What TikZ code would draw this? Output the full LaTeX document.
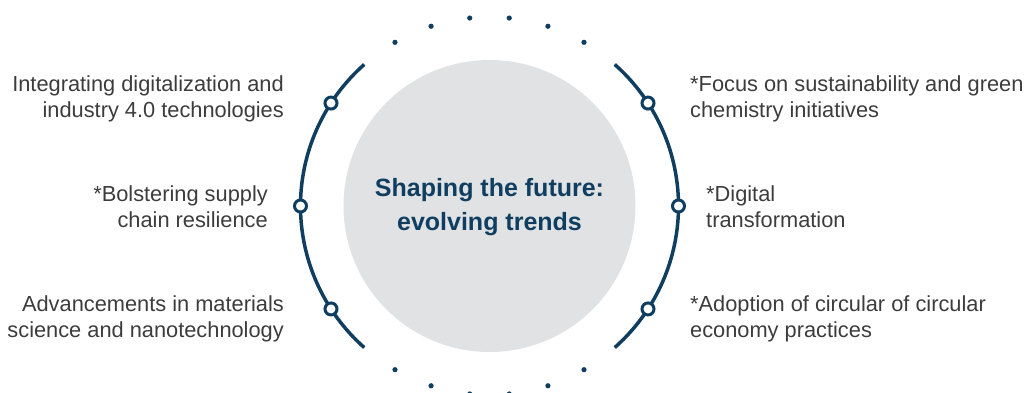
\documentclass[tikz,border=0pt]{standalone}
\usepackage{fontspec}
\setmainfont{Liberation Sans}

\definecolor{trendBlue}{HTML}{0F3E61}
\definecolor{trendGray}{HTML}{E1E2E4}
\definecolor{trendText}{HTML}{3C3C3C}

\tikzset{
  ringdot/.style={circle,draw=trendBlue,line width=3pt,fill=white,inner sep=0pt,minimum size=12pt},
  trendlabel/.style={text=trendText,font=\fontsize{21.8}{26}\selectfont,inner sep=0pt},
}

\begin{document}
\begin{tikzpicture}[x=1pt,y=1pt]
\useasboundingbox (-489.5,-186) rectangle (535.5,206);

% centre disc
\fill[trendGray] (0,0) circle (146);
\node[text=trendBlue,font=\bfseries\fontsize{25}{34}\selectfont,align=center,inner sep=0pt] (title) at (0,-1) {Shaping the future:\\evolving trends};

% the two arcs
\draw[trendBlue,line width=3.5pt] (131.5:189) arc (131.5:228.5:189);
\draw[trendBlue,line width=3.5pt] (-48.5:189) arc (-48.5:48.5:189);

% dotted top and bottom
\foreach \a in {6,18,30} {
  \fill[trendBlue] (90+\a:189) circle (2.6);
  \fill[trendBlue] (90-\a:189) circle (2.6);
  \fill[trendBlue] (270+\a:189) circle (2.6);
  \fill[trendBlue] (270-\a:189) circle (2.6);
}

% markers on the arcs
\node[ringdot] (left1) at (147:189) {};
\node[ringdot] (left2) at (180:189) {};
\node[ringdot] (left3) at (213:189) {};
\node[ringdot] (right1) at (33:189) {};
\node[ringdot] (right2) at (0:189) {};
\node[ringdot] (right3) at (-33:189) {};

% labels
\node[trendlabel,anchor=east,align=right] (trend1) at (-205.5,107) {Integrating digitalization and\\industry 4.0 technologies};
\node[trendlabel,anchor=east,align=right] (trend2) at (-221.5,-1) {*Bolstering supply\\chain resilience};
\node[trendlabel,anchor=east,align=right] (trend3) at (-205.5,-113) {Advancements in materials\\science and nanotechnology};
\node[trendlabel,anchor=west,align=left] (trend4) at (200.5,107) {*Focus on sustainability and green\\chemistry initiatives};
\node[trendlabel,anchor=west,align=left] (trend5) at (216.5,-1) {*Digital\\transformation};
\node[trendlabel,anchor=west,align=left] (trend6) at (200.5,-113) {*Adoption of circular of circular\\economy practices};

\end{tikzpicture}
\end{document}
